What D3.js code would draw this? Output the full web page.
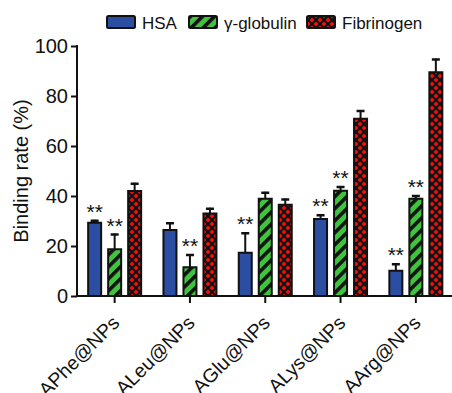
<!DOCTYPE html>
<html>
<head>
<meta charset="utf-8">
<script src="https://cdn.jsdelivr.net/npm/d3@7"></script>
<style>
  body { margin: 0; background: #fff; }
  text { font-family: "Liberation Sans", Arial, sans-serif; fill: #111; }
</style>
</head>
<body>
<svg id="chart" width="452" height="393"></svg>
<script>
// データ
const categories = ["APhe@NPs", "ALeu@NPs", "AGlu@NPs", "ALys@NPs", "AArg@NPs"];
const seriesNames = ["HSA", "γ-globulin", "Fibrinogen"];
const hsaValues = [29.3, 26.4, 17.3, 30.8, 10.1];
const hsaErrors = [1.2, 3.1, 8.2, 1.9, 3.0];
const globulinValues = [18.7, 11.5, 38.9, 42.1, 38.9];
const globulinErrors = [6.3, 5.3, 2.8, 1.9, 1.5];
const fibrinogenValues = [42.0, 33.0, 36.5, 70.9, 89.5];
const fibrinogenErrors = [3.3, 2.3, 2.5, 3.5, 5.5];
const hsaStars = [true, false, true, true, true];
const globulinStars = [true, true, false, true, true];
const fibrinogenStars = [false, false, false, false, false];
const yTicks = [0, 20, 40, 60, 80, 100];

const seriesData = [
    { name: seriesNames[0], values: hsaValues, errors: hsaErrors, stars: hsaStars, fill: "#2b4ea2" },
    { name: seriesNames[1], values: globulinValues, errors: globulinErrors, stars: globulinStars, fill: "url(#stripes)" },
    { name: seriesNames[2], values: fibrinogenValues, errors: fibrinogenErrors, stars: fibrinogenStars, fill: "url(#diamonds)" }
];

const svg = d3.select("#chart");

// パターン定義
const defs = svg.append("defs");
const stripes = defs.append("pattern")
    .attr("id", "stripes")
    .attr("patternUnits", "userSpaceOnUse")
    .attr("width", 8.5).attr("height", 8.5)
    .attr("patternTransform", "rotate(45)");
stripes.append("rect").attr("width", 8.5).attr("height", 8.5).attr("fill", "#40c440");
stripes.append("rect").attr("width", 3.6).attr("height", 8.5).attr("fill", "#111");

const diamonds = defs.append("pattern")
    .attr("id", "diamonds")
    .attr("patternUnits", "userSpaceOnUse")
    .attr("width", 8).attr("height", 8);
diamonds.append("rect").attr("width", 8).attr("height", 8).attr("fill", "#f01010");
diamonds.append("path")
    .attr("d", "M0,0L8,8M8,0L0,8")
    .attr("stroke", "#111").attr("stroke-width", 2.2);

// スケール
const x = d3.scaleBand().domain(categories).range([77, 453.5]);
const xSub = d3.scaleBand().domain(seriesNames).range([-30, 30]);
const y = d3.scaleLinear().domain([0, 100]).range([296, 46]);
const barW = 13;

// 棒
seriesData.forEach(s => {
    const g = svg.append("g");
    categories.forEach((c, i) => {
        const cx = x(c) + x.bandwidth() / 2 + xSub(s.name) + xSub.bandwidth() / 2;
        const top = y(s.values[i]);
        const errTop = y(s.values[i] + s.errors[i]);
        // エラーバー
        g.append("line")
            .attr("x1", cx).attr("x2", cx)
            .attr("y1", top).attr("y2", errTop)
            .attr("stroke", "#111").attr("stroke-width", 2);
        g.append("line")
            .attr("x1", cx - 4).attr("x2", cx + 4)
            .attr("y1", errTop + 1).attr("y2", errTop + 1)
            .attr("stroke", "#111").attr("stroke-width", 2.5);
        g.append("rect")
            .attr("x", cx - barW / 2)
            .attr("y", top)
            .attr("width", barW)
            .attr("height", y(0) - top)
            .attr("fill", s.fill)
            .attr("stroke", "#111")
            .attr("stroke-width", 2);
        if (s.stars[i]) {
            g.append("text")
                .attr("x", cx)
                .attr("y", errTop - 1)
                .attr("text-anchor", "middle")
                .attr("font-size", 21)
                .text("**");
        }
    });
});

// 軸
const yAxis = svg.append("g")
    .attr("transform", "translate(77,0)")
    .call(d3.axisLeft(y).tickValues(yTicks).tickSize(6).tickPadding(3));
yAxis.selectAll("text").attr("font-size", 20).style("font-family", "Liberation Sans, Arial, sans-serif");

const xAxis = svg.append("g")
    .attr("transform", "translate(0,296)")
    .call(d3.axisBottom(x).tickSize(7).tickFormat(""));
xAxis.select(".domain").attr("d", "M77,0H452");

svg.selectAll(".domain, .tick line").attr("stroke", "#111").attr("stroke-width", 2);
yAxis.select(".domain").attr("d", "M0,45H0V297");

// x軸ラベル
svg.append("g").selectAll("text")
    .data(categories)
    .join("text")
    .attr("transform", d => `translate(${x(d) + x.bandwidth() / 2 + 6},324) rotate(-45)`)
    .attr("text-anchor", "end")
    .attr("font-size", 19.5)
    .text(d => d);

// y軸タイトル
svg.append("text")
    .attr("transform", "translate(28,171) rotate(-90)")
    .attr("text-anchor", "middle")
    .attr("font-size", 20)
    .text("Binding rate (%)");

// 凡例
const legendX = [107, 189, 307];
const legend = svg.append("g");
seriesData.forEach((s, i) => {
    legend.append("rect")
        .attr("x", legendX[i]).attr("y", 16)
        .attr("width", 28).attr("height", 12)
        .attr("rx", 1.5)
        .attr("fill", s.fill)
        .attr("stroke", "#111").attr("stroke-width", 2);
    legend.append("text")
        .attr("x", legendX[i] + 35).attr("y", 29)
        .attr("font-size", 17)
        .text(s.name);
});
</script>
</body>
</html>
